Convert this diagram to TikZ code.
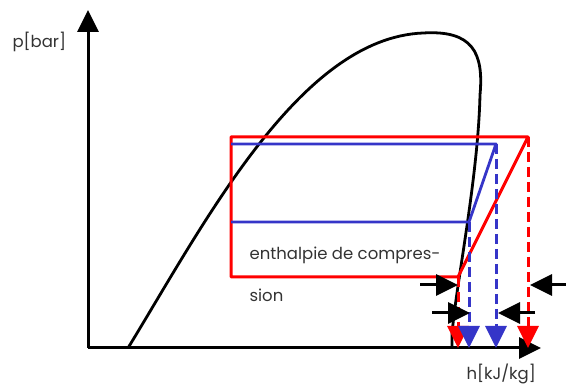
\documentclass[tikz,border=0pt]{standalone}
\usepackage{fontspec}
\setmainfont{Poppins}
\usetikzlibrary{arrows.meta}
\definecolor{CycleRed}{HTML}{FF0000}
\definecolor{CycleBlue}{HTML}{3535C8}
\definecolor{CycleInk}{HTML}{000000}
\definecolor{CycleText}{HTML}{333333}

\begin{document}
\begin{tikzpicture}[x=1pt,y=-1pt,
  bigtip/.style={-{Triangle[width=21pt,length=22pt]}},
  dropline/.style={bigtip,dash pattern=on 10pt off 5pt},
  axistext/.style={anchor=west,text=CycleText,font=\fontsize{16.5}{19}\selectfont}]
  \useasboundingbox (0,0) rectangle (566,387);
  \coordinate (origin) at (88,348);
  \coordinate (ptop) at (88,10);
  \coordinate (hend) at (541,348);
  \draw[CycleInk,line width=3pt,bigtip] (origin) -- (ptop);
  \draw[CycleInk,line width=3pt,bigtip] (origin) -- (hend);
  \node[axistext] (plabel) at (9,42) {p[bar]};
  \node[axistext] (hlabel) at (463,374) {h[kJ/kg]};
  \coordinate (domeL) at (128,348);
  \coordinate (domeTop) at (423,33);
  \coordinate (domeR) at (480,95);
  \coordinate (domeFoot) at (452,335);
  \coordinate (domeEnd) at (452,348);
  \draw[CycleInk,line width=2.8pt] (domeL) .. controls (205,222) and (300,38) .. (domeTop)
    .. controls (472,30) and (484,52) .. (domeR)
    .. controls (478,180) and (455,290) .. (domeFoot) -- (domeEnd);
  \coordinate (rA) at (231,137);
  \coordinate (rB) at (528,137);
  \coordinate (rC) at (458,277);
  \coordinate (rD) at (231,277);
  \coordinate (bA) at (231,144);
  \coordinate (bB) at (496,144);
  \coordinate (bC) at (469,222);
  \coordinate (bD) at (231,222);
  \draw[CycleRed,line width=3pt,line join=round] (rC) -- (rD) -- (rA) -- (rB) -- cycle;
  \draw[CycleBlue,line width=2.8pt,line join=round] (bA) -- (bB) -- (bC) -- (bD);
  \foreach \pt/\col in {rC/CycleRed,rB/CycleRed,bC/CycleBlue,bB/CycleBlue}
  {
    \coordinate (\pt foot) at (\pt |- origin);
    \draw[\col,line width=3pt,dropline] (\pt) -- (\pt foot);
  }
  \foreach \from/\to/\y in {420/458/285, 566/530/285, 432/470/313, 535/498/313}
  {
    \coordinate (s\from) at (\from,\y);
    \coordinate (e\from) at (\to,\y);
    \draw[CycleInk,line width=3pt,bigtip] (s\from) -- (e\from);
  }
  \node[axistext] (comptext) at (246,255) {enthalpie de compres-};
  \node[axistext] (comptext2) at (246,295) {sion};
\end{tikzpicture}
\end{document}
